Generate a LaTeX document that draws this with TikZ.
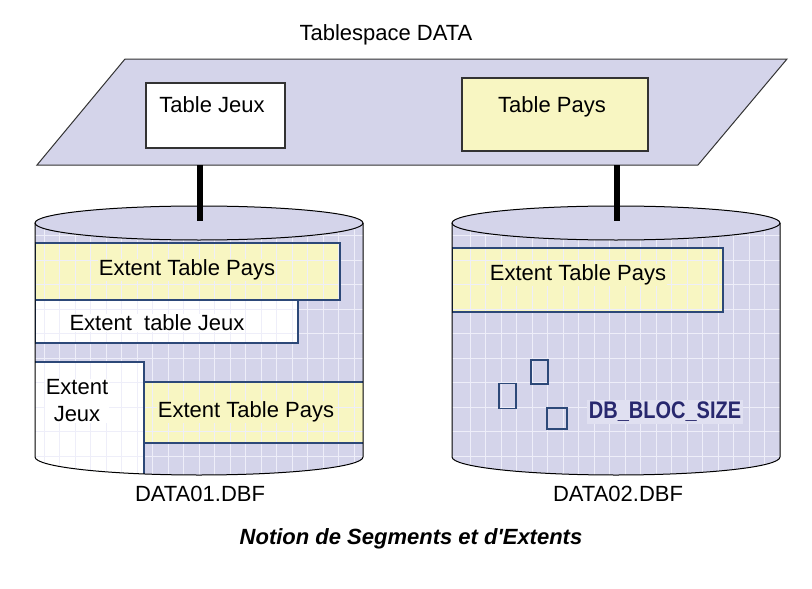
\documentclass[tikz,border=0pt]{standalone}
\usepackage{fontspec}
\setmainfont{Liberation Sans}
\usepackage{tikz}
\definecolor{lavende}{RGB}{212,212,234}
\definecolor{lavclair}{RGB}{224,224,241}
\definecolor{jaune}{RGB}{248,246,194}
\definecolor{grille}{RGB}{238,238,249}
\definecolor{marine}{RGB}{44,72,120}
\definecolor{encre}{RGB}{40,40,110}

\begin{document}
\begin{tikzpicture}[x=1pt,y=-1pt,
	lbl/.style={font=\fontsize{22}{27}\selectfont,inner sep=1pt},
	tbox/.style={draw=black!80,line width=1.2pt},
	ext/.style={draw=marine,line width=1.2pt},
	bloc/.style={draw=marine,line width=1.1pt,inner sep=0pt},
	link/.style={line width=6pt,black}]
	\useasboundingbox (0,0) rectangle (812,589);

	\node [lbl] (tsname) at (386,35) {Tablespace DATA};
	\filldraw [fill=lavende,draw=black!80,line width=1pt] (125,59) -- (787,59) -- (698,165) -- (37,165) -- cycle;
	\coordinate (ts1) at (200,165);
	\coordinate (ts2) at (617,165);
	\node [tbox,fill=white,minimum width=139pt,minimum height=65pt] (tjeux) at (215.5,115.5) {};
	\node [lbl] (ljeux) at (212,105) {Table Jeux};
	\node [tbox,fill=jaune,minimum width=186pt,minimum height=73pt] (tpays) at (555,114.5) {};
	\node [lbl] (lpays) at (552,107) {Table Pays};

	\begin{scope}
		\clip (35,223) -- (35,457) arc[start angle=180,end angle=360,x radius=164pt,y radius=18pt] -- (363,223) -- cycle;
		\fill [lavende] (35,200) rectangle (363,480);
		\fill [jaune] (35,243) rectangle (340,300);
		\fill [white] (35,300) rectangle (298,343);
		\fill [white] (35,362) rectangle (144,480);
		\fill [jaune] (144,382) rectangle (363,443);
		\foreach \gx in {44,59.5,...,363} \draw [grille,line width=1pt] (\gx,200) -- (\gx,480);
		\foreach \gy in {235.5,260,...,480} \draw [grille,line width=1pt] (35,\gy) -- (363,\gy);
		\draw [ext] (35,243) rectangle (340,300) (35,300) rectangle (298,343);
		\draw [ext] (35,362) -- (144,362) -- (144,480);
		\draw [ext] (144,382) -- (363,382) (144,443) -- (363,443);
	\end{scope}
	\node [lbl,fill=jaune] (ext1) at (187,270) {Extent Table Pays};
	\node [lbl,fill=white] (ext2) at (157,323) {Extent\ \ table Jeux};
	\node [lbl,fill=white,align=center] (ext3) at (77,401) {Extent\\Jeux};
	\node [lbl,fill=jaune] (ext4) at (246,412) {Extent Table Pays};
	\filldraw [fill=lavende,draw=black,line width=1pt] (199,223) ellipse [x radius=164pt,y radius=17pt];
	\draw [black,line width=1pt] (35,223) -- (35,457) arc[start angle=180,end angle=360,x radius=164pt,y radius=18pt] -- (363,223);
	\coordinate (c1) at (200,221);
	\node [lbl] (f1) at (200,494) {DATA01.DBF};

	\begin{scope}
		\clip (452,223) -- (452,457) arc[start angle=180,end angle=360,x radius=164pt,y radius=18pt] -- (780,223) -- cycle;
		\fill [lavende] (452,200) rectangle (780,480);
		\fill [jaune] (452,248) rectangle (723,312);
		\foreach \gx in {470,485.5,...,780} \draw [grille,line width=1pt] (\gx,200) -- (\gx,480);
		\foreach \gy in {235.5,260,...,480} \draw [grille,line width=1pt] (452,\gy) -- (780,\gy);
		\draw [ext] (452,248) rectangle (723,312);
	\end{scope}
	\node [lbl,fill=jaune] (ext5) at (578,275) {Extent Table Pays};
	\node [bloc,minimum width=17pt,minimum height=24pt] (b1) at (539.5,372) {};
	\node [bloc,minimum width=17pt,minimum height=25pt] (b2) at (507.5,396) {};
	\node [bloc,minimum width=20pt,minimum height=21pt] (b3) at (557,418.5) {};
	\node [font=\bfseries\fontsize{20}{23}\selectfont,text=encre,fill=lavclair,inner sep=2pt] (bsize) at (665,412) {\scalebox{1}[1.2]{DB\_BLOC\_SIZE}};
	\filldraw [fill=lavende,draw=black,line width=1pt] (616,223) ellipse [x radius=164pt,y radius=17pt];
	\draw [black,line width=1pt] (452,223) -- (452,457) arc[start angle=180,end angle=360,x radius=164pt,y radius=18pt] -- (780,223);
	\coordinate (c2) at (617,221);
	\node [lbl] (f2) at (618,494) {DATA02.DBF};

	\draw [link] (ts1) -- (c1);
	\draw [link] (ts2) -- (c2);

	\node [font=\bfseries\itshape\fontsize{22}{26}\selectfont] (titre) at (411,539) {Notion de Segments et d\textquotesingle Extents};
\end{tikzpicture}
\end{document}
